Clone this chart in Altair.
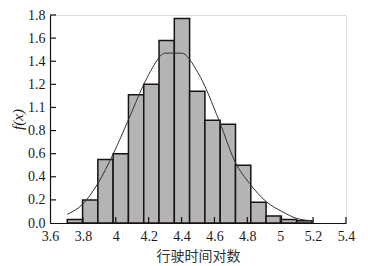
import altair as alt
import pandas as pd

# Histogram bin edges and densities
bin_edges = [3.705, 3.798, 3.891, 3.984, 4.077, 4.170, 4.263, 4.356, 4.449,
             4.542, 4.635, 4.728, 4.821, 4.914, 5.007, 5.100, 5.193]
densities = [0.03, 0.20, 0.55, 0.60, 1.11, 1.20, 1.58, 1.77,
             1.14, 0.89, 0.855, 0.50, 0.18, 0.06, 0.03, 0.02]

# Fitted curve points
curve_x = [3.705, 3.80, 3.89, 3.985, 4.076, 4.167, 4.21, 4.30, 4.40,
           4.50, 4.63, 4.725, 4.815, 4.915, 5.01, 5.10, 5.19]
curve_y = [0.075, 0.165, 0.34, 0.60, 0.89, 1.19, 1.31, 1.47, 1.47,
           1.30, 0.88, 0.53, 0.34, 0.185, 0.10, 0.04, 0.02]

x_ticks = [3.6, 3.8, 4.0, 4.2, 4.4, 4.6, 4.8, 5.0, 5.2, 5.4]
y_ticks = [0.0, 0.2, 0.4, 0.6, 0.8, 1.0, 1.2, 1.4, 1.6, 1.8]

bars = pd.DataFrame({"x0": bin_edges[:-1], "x1": bin_edges[1:], "y": densities})
curve = pd.DataFrame({"x": curve_x, "y": curve_y})
yt = pd.DataFrame({"y": y_ticks[1:]})
xt = pd.DataFrame({"x": x_ticks[1:]})

W, H = 296, 208
serif = "'Times New Roman', 'Liberation Serif', serif"

xscale = alt.Scale(domain=[3.6, 5.4], nice=False, zero=False)
yscale = alt.Scale(domain=[0, 1.8], nice=False)

x_axis = alt.Axis(
    values=x_ticks, title="行驶时间对数", labelExpr="datum.value + ''",
    labelOverlap=False, labelFlush=False,
    ticks=False, grid=False, domainColor="#111", domainWidth=1.2,
    labelFont=serif, labelFontSize=14, labelColor="#1a1a1a", labelPadding=6,
    titleFont="Noto Sans CJK SC", titleFontSize=14, titleFontWeight="normal",
    titleColor="#333", titlePadding=6)
y_axis = alt.Axis(
    values=y_ticks, title="f(x)",
    labelExpr="datum.value == 1 ? '1.1' : format(datum.value, '.1f')",
    labelOverlap=False, labelFlush=False,
    ticks=False, grid=False, domainColor="#111", domainWidth=1.2,
    labelFont=serif, labelFontSize=14, labelColor="#1a1a1a", labelPadding=5,
    titleFont=serif, titleFontStyle="italic", titleFontSize=15,
    titleFontWeight="normal", titleColor="#1a1a1a", titlePadding=2)

bar_layer = alt.Chart(bars).mark_rect(
    fill="#b4b4b4", stroke="#1a1212", strokeWidth=1.5
).encode(
    x=alt.X("x0:Q", scale=xscale, axis=x_axis),
    x2="x1:Q",
    y=alt.Y("y:Q", scale=yscale, axis=y_axis),
    y2=alt.datum(0),
)

curve_layer = alt.Chart(curve).mark_line(
    color="#333", strokeWidth=1, interpolate="monotone"
).encode(x=alt.X("x:Q", scale=xscale, axis=x_axis),
         y=alt.Y("y:Q", scale=yscale, axis=y_axis))

ytick_layer = alt.Chart(yt).mark_rule(color="#111", strokeWidth=1.2).encode(
    y=alt.Y("y:Q", scale=yscale, axis=y_axis), x=alt.value(0), x2=alt.value(6))

xtick_layer = alt.Chart(xt).mark_rule(color="#111", strokeWidth=1.2).encode(
    x=alt.X("x:Q", scale=xscale, axis=x_axis), y=alt.value(H), y2=alt.value(H - 6))

chart = alt.layer(bar_layer, curve_layer, ytick_layer, xtick_layer).properties(
    width=W, height=H,
    autosize=alt.AutoSizeParams(type="none"),
    padding={"left": 42, "top": 7, "right": 14, "bottom": 43},
).configure_view(stroke=None).configure(background="white")

chart.save("out.html", embed_options={"renderer": "svg", "actions": False})
